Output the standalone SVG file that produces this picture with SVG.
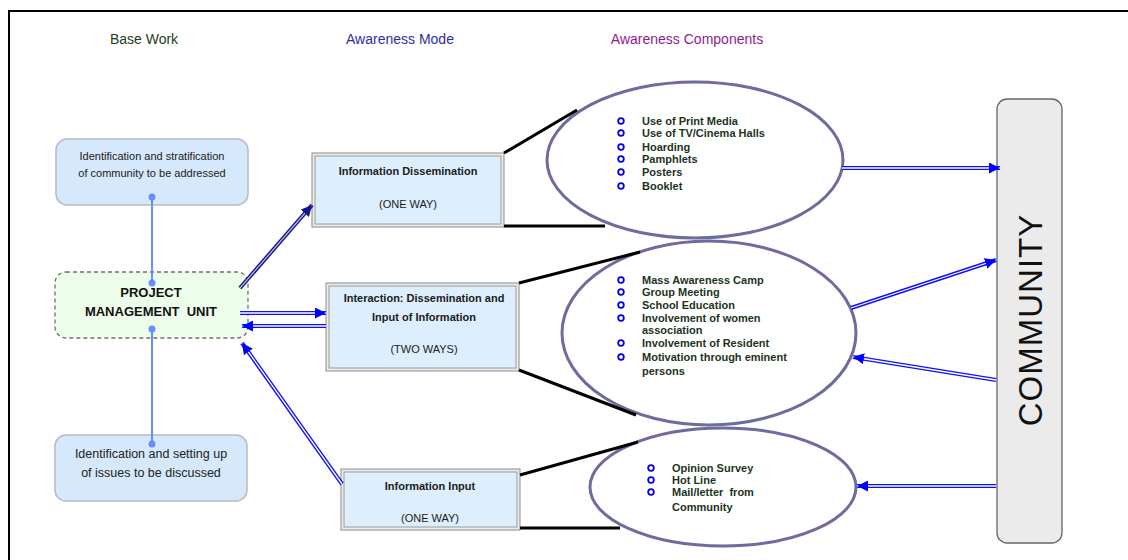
<svg xmlns="http://www.w3.org/2000/svg" width="1128" height="560" viewBox="0 0 1128 560">
<style>
text{font-family:"Liberation Sans",Arial,sans-serif}
.hdr{font-size:14px;text-anchor:middle}
.bw{fill:#244020}.am{fill:#2e2ea0}.ac{fill:#8e1c8e}
.base rect{fill:#d6e8fb;stroke:#b7bcc4;stroke-width:1.5}
.base text{font-size:11px;fill:#222;text-anchor:middle}
.mode .ob{fill:#ececec;stroke:#8a8a8a;stroke-width:1}
.mode .ib{fill:#ddeefd;stroke:#9a9a9a;stroke-width:1}
.mode text{font-size:11px;fill:#1c1c1c;text-anchor:middle}
.mode .t{font-weight:bold}
.ell ellipse{fill:#fff;stroke:#6c6c9e;stroke-width:3}
.ell text{font-size:11px;font-weight:bold;fill:#1c341c}
.ell circle{fill:none;stroke:#0000ee;stroke-width:1.8}
.o{fill:none;stroke:#1010ff;stroke-width:4}
.on{fill:none;stroke:#14148c;stroke-width:4}
.i{fill:none;stroke:#fff;stroke-width:1.3}
.in{fill:none;stroke:#b0b0dc;stroke-width:1.3}
.h{fill:none;stroke:none}
.blk{stroke:#000;stroke-width:3;fill:none}
.lb{stroke:#6a8cff;stroke-width:2;fill:none}
.dot{fill:#6a8cff}
</style>
<defs>
<marker id="ah" markerUnits="userSpaceOnUse" markerWidth="12" markerHeight="11" refX="11" refY="5.5" orient="auto"><path d="M0,0 L11,5.5 L0,11 Z" fill="#0000ff"/></marker>
<marker id="ahn" markerUnits="userSpaceOnUse" markerWidth="12" markerHeight="11" refX="11" refY="5.5" orient="auto"><path d="M0,0 L11,5.5 L0,11 Z" fill="#14148c"/></marker>
</defs>
<rect x="9" y="11" width="1130" height="560" fill="#fff" stroke="#000" stroke-width="2"/>
<g id="headers">
<text class="hdr bw" x="144" y="44">Base Work</text>
<text class="hdr am" x="400" y="44">Awareness Mode</text>
<text class="hdr ac" x="687" y="44">Awareness Components</text>
</g>
<g id="base-top" class="base">
<rect x="56" y="139" width="192" height="66" rx="11"/>
<text x="152" y="160">Identification and stratification</text>
<text x="152" y="177">of community to be addressed</text>
</g>
<g id="pmu">
<rect x="55" y="272" width="193" height="66" rx="11" fill="#ecfdea" stroke="#707070" stroke-width="1.3" stroke-dasharray="4 3"/>
<text x="151" y="297" font-size="13" font-weight="bold" fill="#111" text-anchor="middle">PROJECT</text>
<text x="151" y="316" font-size="13" font-weight="bold" fill="#111" text-anchor="middle" xml:space="preserve">MANAGEMENT  UNIT</text>
</g>
<g id="base-bottom" class="base">
<rect x="55" y="435" width="192" height="66" rx="11"/>
<text x="151" y="458" style="font-size:12.5px">Identification and setting up</text>
<text x="151" y="477" style="font-size:12.5px">of issues to be discussed</text>
</g>
<g id="info-dissemination" class="mode">
<rect class="ob" x="312" y="153" width="192" height="74"/>
<rect class="ib" x="315" y="156" width="186" height="68"/>
<text class="t" x="408" y="175">Information Dissemination</text>
<text x="408" y="208">(ONE WAY)</text>
</g>
<g id="interaction" class="mode">
<rect class="ob" x="326" y="283" width="193" height="88"/>
<rect class="ib" x="329" y="286" width="187" height="82"/>
<text class="t" x="424" y="302">Interaction:  Dissemination and</text>
<text class="t" x="424" y="321">Input of Information</text>
<text x="424" y="353">(TWO WAYS)</text>
</g>
<g id="info-input" class="mode">
<rect class="ob" x="341" y="469" width="179" height="61"/>
<rect class="ib" x="344" y="472" width="173" height="55"/>
<text class="t" x="430" y="490">Information Input</text>
<text x="430" y="522">(ONE WAY)</text>
</g>
<g id="components-one-way" class="ell">
<ellipse cx="695" cy="160" rx="148" ry="78"/>
<circle cx="621" cy="121" r="2.8"/><text x="642" y="125">Use of Print Media</text>
<circle cx="621" cy="133" r="2.8"/><text x="642" y="137">Use of TV/Cinema Halls</text>
<circle cx="621" cy="147" r="2.8"/><text x="642" y="151">Hoarding</text>
<circle cx="621" cy="159" r="2.8"/><text x="642" y="163">Pamphlets</text>
<circle cx="621" cy="172" r="2.8"/><text x="642" y="176">Posters</text>
<circle cx="621" cy="186" r="2.8"/><text x="642" y="190">Booklet</text>
</g>
<g id="components-two-ways" class="ell">
<ellipse cx="709" cy="333" rx="147" ry="92"/>
<circle cx="621" cy="280" r="2.8"/><text x="642" y="284">Mass Awareness Camp</text>
<circle cx="621" cy="292" r="2.8"/><text x="642" y="296">Group Meeting</text>
<circle cx="621" cy="305" r="2.8"/><text x="642" y="309">School Education</text>
<circle cx="621" cy="318" r="2.8"/><text x="642" y="322">Involvement of women</text>
<text x="642" y="334">association</text>
<circle cx="621" cy="343" r="2.8"/><text x="642" y="347">Involvement of Resident</text>
<circle cx="621" cy="357" r="2.8"/><text x="642" y="361">Motivation through eminent</text>
<text x="642" y="375">persons</text>
</g>
<g id="components-input" class="ell">
<ellipse cx="723" cy="487" rx="133" ry="59"/>
<circle cx="651" cy="468" r="2.8"/><text x="672" y="472">Opinion Survey</text>
<circle cx="651" cy="480" r="2.8"/><text x="672" y="484">Hot Line</text>
<circle cx="651" cy="492" r="2.8"/><text x="672" y="496" xml:space="preserve">Mail/letter  from</text>
<text x="672" y="511">Community</text>
</g>
<g id="community">
<rect x="997" y="99" width="65" height="444" rx="10" fill="#ebebeb" stroke="#666" stroke-width="1.3"/>
<text transform="translate(1042,320) rotate(-90)" x="0" y="0" font-size="33" letter-spacing="1" text-anchor="middle" fill="#111">COMMUNITY</text>
</g>
<g id="connectors">
<path class="lb" d="M152,197 L152,283"/>
<path class="lb" d="M152,329 L152,444"/>
<circle class="dot" cx="152" cy="197" r="3.5"/>
<circle class="dot" cx="152" cy="283" r="3.5"/>
<circle class="dot" cx="152" cy="329" r="3.5"/>
<circle class="dot" cx="152" cy="444" r="3.5"/>
<path class="blk" d="M504,153 L577,110"/>
<path class="blk" d="M504,226 L605,226"/>
<path class="blk" d="M519,283 L640,252"/>
<path class="blk" d="M519,370 L636,415"/>
<path class="blk" d="M520,475 L638,442"/>
<path class="blk" d="M520,528 L620,528"/>
<path class="on" d="M240,288 L312,205"/><path class="in" d="M240,288 L312,205"/><path class="h" d="M240,288 L312,205" marker-end="url(#ahn)"/>
<path class="o" d="M240,313 L326,313"/><path class="i" d="M240,313 L326,313"/><path class="h" d="M240,313 L326,313" marker-end="url(#ah)"/>
<path class="o" d="M326,326 L242,326"/><path class="i" d="M326,326 L242,326"/><path class="h" d="M326,326 L242,326" marker-end="url(#ah)"/>
<path class="o" d="M342,484 L242,343"/><path class="i" d="M342,484 L242,343"/><path class="h" d="M342,484 L242,343" marker-end="url(#ah)"/>
<path class="o" d="M842,168 L1000,168"/><path class="i" d="M842,168 L1000,168"/><path class="h" d="M842,168 L1000,168" marker-end="url(#ah)"/>
<path class="o" d="M851,308 L996,260"/><path class="i" d="M851,308 L996,260"/><path class="h" d="M851,308 L996,260" marker-end="url(#ah)"/>
<path class="o" d="M996,380 L853,357"/><path class="i" d="M996,380 L853,357"/><path class="h" d="M996,380 L853,357" marker-end="url(#ah)"/>
<path class="o" d="M996,486 L857,486"/><path class="i" d="M996,486 L857,486"/><path class="h" d="M996,486 L857,486" marker-end="url(#ah)"/>
</g>
</svg>
